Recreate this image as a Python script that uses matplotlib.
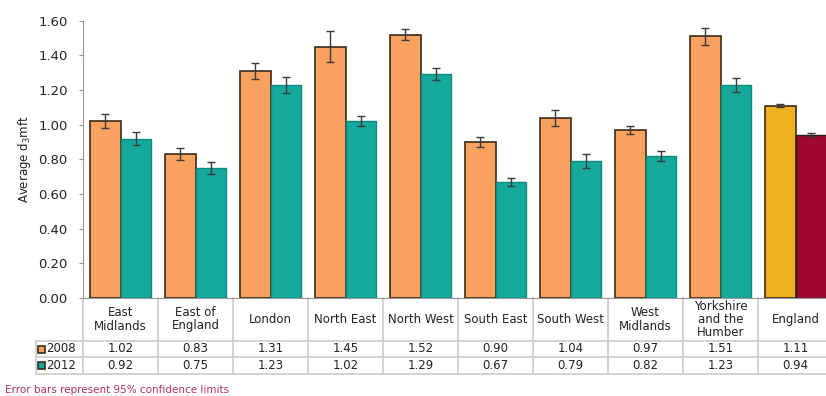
import matplotlib.pyplot as plt
from matplotlib.patches import Rectangle
from matplotlib.transforms import blended_transform_factory

plt.rcParams['font.family'] = ['DejaVu Sans']
plt.rcParams['mathtext.default'] = 'regular'

regions = ['East\nMidlands', 'East of\nEngland', 'London', 'North East', 'North West',
           'South East', 'South West', 'West\nMidlands', 'Yorkshire\nand the\nHumber', 'England']
dmft_2008 = [1.02, 0.83, 1.31, 1.45, 1.52, 0.90, 1.04, 0.97, 1.51, 1.11]
dmft_2012 = [0.92, 0.75, 1.23, 1.02, 1.29, 0.67, 0.79, 0.82, 1.23, 0.94]
ci_2008 = [0.04, 0.035, 0.045, 0.09, 0.03, 0.03, 0.045, 0.025, 0.05, 0.01]
ci_2012 = [0.04, 0.035, 0.045, 0.03, 0.035, 0.025, 0.04, 0.03, 0.04, 0.01]
years = ['2008', '2012']

orange, teal = '#F9A15F', '#14A99A'
gold, claret = '#EFB11F', '#A00832'
grid = '#cccccc'
txt = '#222222'

fig = plt.figure(figsize=(8.26, 3.96), dpi=100)
ax = fig.add_axes([83 / 826, 1 - 298 / 396, 750 / 826, (298 - 20.7) / 396])

n = len(regions)
w = 0.41
x = list(range(n))
c08 = [orange] * (n - 1) + [gold]
c12 = [teal] * (n - 1) + [claret]
e12 = ['#0e8a7e'] * (n - 1) + ['#2a1a10']

ax.bar([i - w / 2 for i in x], dmft_2008, w, color=c08, edgecolor='#3b2a1a', linewidth=1.2, zorder=2)
ax.bar([i + w / 2 for i in x], dmft_2012, w, color=c12, edgecolor=e12, linewidth=1.0, zorder=2)
ax.errorbar([i - w / 2 for i in x], dmft_2008, yerr=ci_2008, fmt='none',
            ecolor='#3a3a3a', elinewidth=1, capsize=3, capthick=1, zorder=3)
ax.errorbar([i + w / 2 for i in x], dmft_2012, yerr=ci_2012, fmt='none',
            ecolor='#3a3a3a', elinewidth=1, capsize=3, capthick=1, zorder=3)

ax.set_xlim(-0.5, n - 0.5)
ax.set_ylim(0, 1.6)
ax.set_yticks([i * 0.2 for i in range(9)])
ax.set_yticklabels([f'{i * 0.2:.2f}' for i in range(9)], fontsize=9.5, color=txt)
ax.set_xticks([])
for s in ['top', 'right']:
    ax.spines[s].set_visible(False)
ax.spines['left'].set_color('#999999')
ax.spines['bottom'].set_color('#999999')
ax.tick_params(axis='y', length=3, color='#999999', pad=8)
ax.set_ylabel('Average d$_3$mft', fontsize=8.5, labelpad=4, color=txt)

# data table under the bars
tr = blended_transform_factory(ax.transData, fig.transFigure)
y_top = 1 - 298 / 396
y_head = 1 - 341 / 396
y_r1 = 1 - 357 / 396
y_r2 = 1 - 374 / 396
x_lab = -0.5 - 47 / 75

for yy in [y_head, y_r1, y_r2]:
    ax.plot([x_lab, n - 0.5], [yy, yy], color=grid, lw=1.2, transform=tr, clip_on=False)
for i in range(n + 1):
    ax.plot([i - 0.5, i - 0.5], [y_top, y_r2], color=grid, lw=1.2, transform=tr, clip_on=False)
ax.plot([x_lab, x_lab], [y_head, y_r2], color=grid, lw=1.2, transform=tr, clip_on=False)

for i, name in enumerate(regions):
    ax.text(i, (y_top + y_head) / 2, name, ha='center', va='center', fontsize=8.5,
            linespacing=1.0, transform=tr, color=txt)
    ax.text(i, (y_head + y_r1) / 2, f'{dmft_2008[i]:.2f}', ha='center', va='center',
            fontsize=8.5, transform=tr, color=txt)
    ax.text(i, (y_r1 + y_r2) / 2, f'{dmft_2012[i]:.2f}', ha='center', va='center',
            fontsize=8.5, transform=tr, color=txt)

for yr, (ya, yb), col in zip(years, [(y_head, y_r1), (y_r1, y_r2)], [orange, teal]):
    ym = (ya + yb) / 2
    fig.add_artist(Rectangle((38 / 826, ym - 3.5 / 396), 7 / 826, 7 / 396,
                             facecolor=col, edgecolor='#3b2a1a', lw=1.2,
                             transform=fig.transFigure))
    fig.text(46 / 826, ym, yr, ha='left', va='center', fontsize=8.5, color=txt)

fig.text(5 / 826, 1 - 390 / 396, 'Error bars represent 95% confidence limits',
         ha='left', va='center', fontsize=7.5, color='#B8325A')

fig.savefig('out.png', dpi=100)
